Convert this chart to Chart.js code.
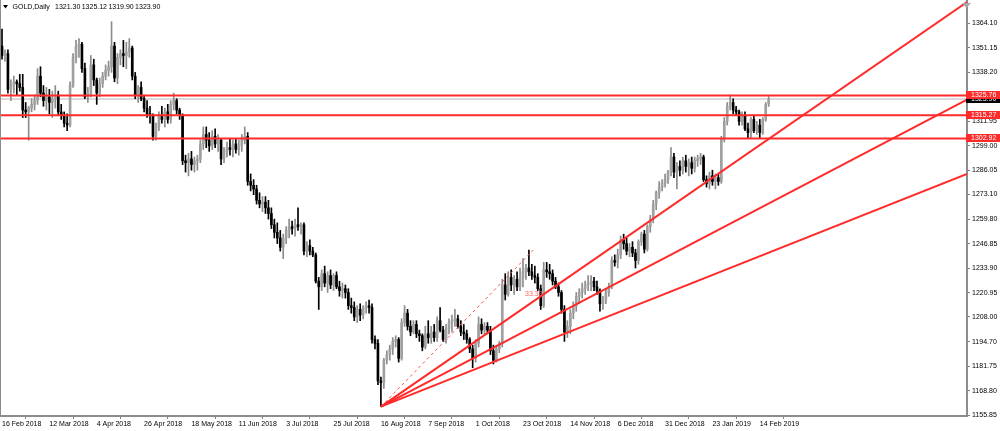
<!DOCTYPE html>
<html>
<head>
<meta charset="utf-8">
<script src="https://cdn.jsdelivr.net/npm/chart.js@4.4.1/dist/chart.umd.min.js"></script>
<style>
  body { margin: 0; background: #fff; }
</style>
</head>
<body>
<canvas id="goldChart" width="1000" height="431"></canvas>
<script>
// GOLD daily candles, 16 Feb 2018 .. 15 Feb 2019 (bar index 0..259)
const opens = [
  1352,1347,1348,1329,1331,1333,1332,1330,1318,1317,
  1319,1321,1323,1336,1327,1323,1325,1322,1324,1326,
  1317,1315,1311,1310,1331,1346,1352,1353,1340,1325,
  1327,1342,1334,1327,1332,1336,1339,1341,1352,1335,
  1346,1348,1347,1349,1351,1336,1326,1330,1324,1319,
  1316,1315,1304,1309,1315,1313,1317,1313,1321,1323,
  1318,1315,1291,1290,1292,1289,1291,1292,1300,1305,
  1302,1299,1304,1300,1302,1292,1296,1298,1297,1300,
  1297,1299,1302,1304,1280,1278,1276,1270,1268,1269,
  1266,1263,1257,1253,1250,1245,1250,1254,1256,1255,
  1257,1256,1257,1243,1246,1243,1241,1227,1224,1231,
  1226,1230,1225,1230,1224,1222,1223,1221,1214,1213,
  1208,1212,1209,1213,1214,1213,1196,1194,1174,1173,
  1185,1188,1191,1195,1196,1186,1205,1210,1203,1200,
  1204,1199,1198,1192,1199,1197,1200,1197,1206,1201,
  1196,1202,1205,1206,1207,1203,1200,1199,1196,1191,
  1186,1194,1204,1201,1203,1201,1190,1185,1191,1194,
  1225,1220,1229,1225,1228,1224,1229,1232,1234,1232,
  1230,1229,1223,1214,1233,1232,1231,1227,1224,1221,
  1212,1200,1203,1210,1214,1219,1221,1223,1225,1226,
  1227,1224,1222,1215,1217,1221,1224,1238,1237,1241,
  1249,1247,1243,1245,1242,1238,1248,1252,1244,1256,
  1260,1268,1274,1277,1279,1281,1285,1293,1285,1288,
  1286,1291,1288,1290,1287,1291,1292,1293,1281,1279,
  1283,1280,1282,1280,1303,1312,1320,1322,1318,1317,
  1312,1315,1308,1306,1313,1307,1310,1306,1313,1321.30
];
const highs = [
  1361,1350,1350,1334,1336,1334,1337,1337,1322,1320,
  1324,1326,1340,1341,1331,1330,1329,1328,1331,1328,
  1321,1317,1316,1333,1348,1355,1356,1354,1343,1330,
  1347,1345,1335,1335,1338,1342,1344,1365,1354,1348,
  1350,1355,1354,1356,1352,1338,1331,1333,1326,1323,
  1320,1316,1311,1317,1320,1319,1321,1323,1327,1324,
  1319,1316,1294,1295,1296,1293,1294,1302,1309,1309,
  1306,1307,1308,1305,1303,1298,1301,1303,1302,1303,
  1302,1305,1309,1306,1284,1281,1278,1274,1272,1272,
  1270,1266,1260,1258,1254,1252,1256,1260,1259,1260,
  1266,1258,1258,1248,1249,1245,1242,1229,1233,1235,
  1232,1233,1231,1232,1227,1226,1225,1223,1218,1216,
  1214,1215,1214,1216,1217,1215,1198,1196,1176,1186,
  1190,1193,1197,1198,1197,1207,1214,1212,1206,1206,
  1206,1201,1199,1203,1206,1203,1204,1208,1213,1203,
  1204,1207,1209,1212,1209,1206,1204,1201,1197,1193,
  1196,1208,1207,1205,1205,1203,1193,1193,1195,1228,
  1231,1232,1233,1230,1232,1234,1239,1236,1243.6,1236,
  1235,1231,1225,1237,1237,1236,1233,1229,1226,1222,
  1214,1206,1212,1216,1221,1223,1226,1227,1230,1230,
  1229,1227,1223,1219,1223,1226,1240,1241,1244,1251,
  1252,1250,1247,1248,1244,1249,1253,1254,1257,1262,
  1270,1275,1280,1281,1284,1286,1298,1295,1290,1291,
  1293,1294,1292,1293,1293,1294,1295,1294,1283,1285,
  1286,1284,1284,1304,1314,1322,1326,1324,1320,1318,
  1317,1317,1311,1314,1315,1312,1313,1314,1322,1325.12
];
const lows = [
  1345,1344,1327,1323,1327,1326,1328,1314,1314,1302,
  1317,1318,1321,1325,1320,1318,1316,1314,1319,1315,
  1313,1309,1307,1309,1330,1343,1346,1338,1324,1322,
  1325,1331,1321,1325,1330,1334,1336,1338,1333,1332,
  1342,1341,1340,1346,1334,1324,1322,1323,1317,1314,
  1311,1302,1302,1307,1311,1309,1311,1311,1318,1316,
  1313,1289,1285,1283,1286,1285,1286,1290,1297,1298,
  1296,1297,1298,1296,1289,1290,1293,1294,1293,1295,
  1294,1296,1300,1278,1275,1273,1268,1266,1264,1263,
  1260,1255,1250,1247,1243,1239,1247,1250,1252,1251,
  1254,1252,1241,1240,1241,1240,1226,1212,1222,1224,
  1221,1223,1222,1223,1219,1218,1218,1212,1210,1206,
  1205,1206,1207,1210,1210,1194,1191,1172,1160.3,1170,
  1183,1185,1188,1192,1184,1185,1203,1201,1198,1199,
  1197,1195,1190,1191,1194,1194,1195,1195,1200,1195,
  1194,1199,1200,1203,1202,1198,1196,1194,1189,1181,
  1184,1192,1199,1198,1199,1188,1183,1184,1189,1192,
  1217,1219,1222,1220,1222,1222,1224,1228,1230,1228,
  1226,1222,1212,1213,1229,1228,1225,1223,1219,1210,
  1195,1197,1199,1207,1211,1215,1218,1220,1222,1222,
  1222,1220,1211,1212,1215,1219,1223,1235,1234,1239,
  1244,1241,1240,1240,1234,1236,1246,1242,1243,1253,
  1258,1265,1271,1275,1277,1279,1283,1282,1276,1283,
  1284,1285,1283,1284,1285,1288,1289,1280,1277,1276,
  1278,1276,1278,1279,1301,1310,1318,1316,1315,1310,
  1310,1307,1303,1303,1306,1305,1303,1305,1312,1319.90
];
const closes = [
  1347,1348,1329,1331,1333,1332,1330,1318,1317,1319,
  1321,1323,1336,1327,1323,1325,1322,1324,1326,1317,
  1315,1311,1310,1331,1346,1352,1353,1340,1325,1327,
  1342,1334,1327,1332,1336,1339,1341,1352,1335,1346,
  1348,1347,1349,1351,1336,1326,1330,1324,1319,1316,
  1315,1304,1309,1315,1313,1317,1313,1321,1323,1318,
  1315,1291,1290,1292,1289,1291,1292,1300,1305,1302,
  1299,1304,1300,1302,1292,1296,1298,1297,1300,1297,
  1299,1302,1304,1280,1278,1276,1270,1268,1269,1266,
  1263,1257,1253,1250,1245,1250,1254,1256,1255,1257,
  1256,1257,1243,1246,1243,1241,1227,1224,1231,1226,
  1230,1225,1230,1224,1222,1223,1221,1214,1213,1208,
  1212,1209,1213,1214,1213,1196,1194,1174,1173,1185,
  1188,1191,1195,1196,1186,1205,1210,1203,1200,1204,
  1199,1198,1192,1199,1197,1200,1197,1206,1201,1196,
  1202,1205,1206,1207,1203,1200,1199,1196,1191,1186,
  1194,1204,1201,1203,1201,1190,1185,1191,1194,1225,
  1220,1229,1225,1228,1224,1229,1232,1234,1232,1230,
  1229,1223,1214,1233,1232,1231,1227,1224,1221,1212,
  1200,1203,1210,1214,1219,1221,1223,1225,1226,1227,
  1224,1222,1215,1217,1221,1224,1238,1237,1241,1249,
  1247,1243,1245,1242,1238,1248,1252,1244,1256,1260,
  1268,1274,1277,1279,1281,1285,1293,1285,1288,1286,
  1291,1288,1290,1287,1291,1292,1293,1281,1279,1283,
  1280,1282,1280,1303,1312,1320,1322,1318,1317,1312,
  1315,1308,1306,1313,1307,1310,1306,1313,1321,1323.90
];

// axis labels
const xTickBars = [0,16,32,48,64,80,96,112,128,144,160,176,192,208,224,240,256];
const xLabels = ['16 Feb 2018','12 Mar 2018','4 Apr 2018','26 Apr 2018','18 May 2018','11 Jun 2018',
  '3 Jul 2018','25 Jul 2018','16 Aug 2018','7 Sep 2018','1 Oct 2018','23 Oct 2018','14 Nov 2018',
  '6 Dec 2018','31 Dec 2018','23 Jan 2019','14 Feb 2019'];
const yLabels = ['1364.10','1351.15','1338.20','1311.95','1299.00','1286.05','1273.10','1259.80',
  '1246.85','1233.90','1220.95','1208.00','1194.70','1181.75','1168.80','1155.85'];

// drawn objects
const levels = [1325.76, 1315.27, 1302.92];
const fanStart = [128, 1160.3];
const fanEnds = [1375.4, 1323.5, 1284.0];
const dashEnd = [179.5, 1243.6];
const fanText = '33.33';

const X_MIN = -0.68, X_MAX = 326;
const RED = '#ff2a2a';
const FONT = 'Liberation Sans';

const last = closes.length - 1;
const wicks = highs.map((h, i) => ({ x: i, y: [lows[i], h] }));
const bodies = opens.map((o, i) => {
  let lo = Math.min(o, closes[i]), hi = Math.max(o, closes[i]);
  if (hi - lo < 0.6) { const m = (hi + lo) / 2; lo = m - 0.3; hi = m + 0.3; }
  return { x: i, y: [lo, hi] };
});
const isUp = closes.map((c, i) => c >= opens[i]);

const datasets = [
  {
    type: 'line', order: 9,
    data: [{ x: X_MIN, y: closes[last] }, { x: X_MAX, y: closes[last] }],
    borderColor: '#dadada', borderWidth: 2, pointRadius: 0
  },
  {
    type: 'bar', order: 6, data: wicks, grouped: false,
    backgroundColor: isUp.map(u => u ? '#8c8c8c' : '#000'),
    maxBarThickness: 1, barPercentage: 1, categoryPercentage: 1
  },
  {
    type: 'bar', order: 5, data: bodies, grouped: false,
    backgroundColor: isUp.map(u => u ? '#a0a0a0' : '#000'),
    maxBarThickness: 2, barPercentage: 1, categoryPercentage: 1
  }
];
levels.forEach(p => datasets.push({
  type: 'line', order: 2,
  data: [{ x: X_MIN, y: p }, { x: X_MAX, y: p }],
  borderColor: RED, borderWidth: 2, pointRadius: 0
}));
fanEnds.forEach(p => datasets.push({
  type: 'line', order: 1,
  data: [{ x: fanStart[0], y: fanStart[1] }, { x: X_MAX, y: p }],
  borderColor: RED, borderWidth: 2, pointRadius: 0
}));
datasets.push({
  type: 'line', order: 1,
  data: [{ x: fanStart[0], y: fanStart[1] }, { x: dashEnd[0], y: dashEnd[1] }],
  borderColor: '#ff5050', borderWidth: 1, borderDash: [3, 3], pointRadius: 0
});

const overlay = {
  id: 'overlay',
  afterDraw(chart) {
    const { ctx, chartArea: a, scales: { x, y } } = chart;
    ctx.save();
    ctx.strokeStyle = '#8c8c8c';
    ctx.lineWidth = 1;
    ctx.beginPath();
    ctx.moveTo(0.5, a.top);
    ctx.lineTo(0.5, a.bottom);
    ctx.stroke();

    // price tags on the right axis
    ctx.font = '7px "' + FONT + '"';
    ctx.textBaseline = 'middle';
    ctx.textAlign = 'left';
    const tags = [[closes[last], '#000']].concat(levels.map(p => [p, RED]));
    tags.forEach(([p, bg]) => {
      const py = Math.round(y.getPixelForValue(p));
      ctx.fillStyle = bg;
      ctx.fillRect(a.right - 1, py - 4, 34, 8);
      ctx.fillStyle = '#fff';
      ctx.fillText(p.toFixed(2), a.right + 4, py + 0.5);
    });

    // fan level text
    ctx.fillStyle = '#ff6060';
    ctx.fillText(fanText, x.getPixelForValue(176.7), y.getPixelForValue(1220.2));

    // title
    ctx.fillStyle = '#000';
    ctx.beginPath();
    ctx.moveTo(3, 5); ctx.lineTo(8, 5); ctx.lineTo(5.5, 8.5); ctx.closePath();
    ctx.fill();
    ctx.fillText('GOLD,Daily', 12.5, 7.5);
    [opens[last], highs[last], lows[last], closes[last]].forEach((v, i) => {
      ctx.fillText(v.toFixed(2), 55 + i * 26.7, 7.5);
    });

    // chart shift marker
    ctx.fillStyle = '#a8a8a8';
    ctx.beginPath();
    ctx.moveTo(962, 3); ctx.lineTo(971, 3); ctx.lineTo(966.5, 8); ctx.closePath();
    ctx.fill();
    ctx.restore();
  }
};

new Chart(document.getElementById('goldChart'), {
  type: 'bar',
  data: { datasets: datasets },
  options: {
    responsive: false,
    animation: false,
    events: [],
    layout: { padding: 0 },
    plugins: { legend: { display: false }, tooltip: { enabled: false } },
    scales: {
      x: {
        type: 'linear', min: X_MIN, max: X_MAX, offset: false,
        afterBuildTicks: s => { s.ticks = xTickBars.map(v => ({ value: v })); },
        afterFit: s => { s.height = 15; s.paddingLeft = 0; s.paddingRight = 0; },
        ticks: {
          callback: (v, i) => xLabels[i], align: 'start', maxRotation: 0, autoSkip: false,
          padding: 1, color: '#000', font: { family: FONT, size: 7 }
        },
        grid: { drawOnChartArea: false, tickLength: 3, color: '#808080' },
        border: { color: '#8c8c8c', width: 2 }
      },
      y: {
        type: 'linear', position: 'right', min: 1155.33, max: 1376.49,
        afterBuildTicks: s => { s.ticks = yLabels.map(v => ({ value: parseFloat(v) })); },
        afterFit: s => { s.width = 33; s.paddingTop = 0; s.paddingBottom = 0; },
        ticks: {
          callback: (v, i) => yLabels[i], autoSkip: false, padding: 2,
          color: '#000', font: { family: FONT, size: 7 }
        },
        grid: { drawOnChartArea: false, tickLength: 3, color: '#808080' },
        border: { color: '#8c8c8c', width: 2 }
      }
    }
  },
  plugins: [overlay]
});
</script>
</body>
</html>
